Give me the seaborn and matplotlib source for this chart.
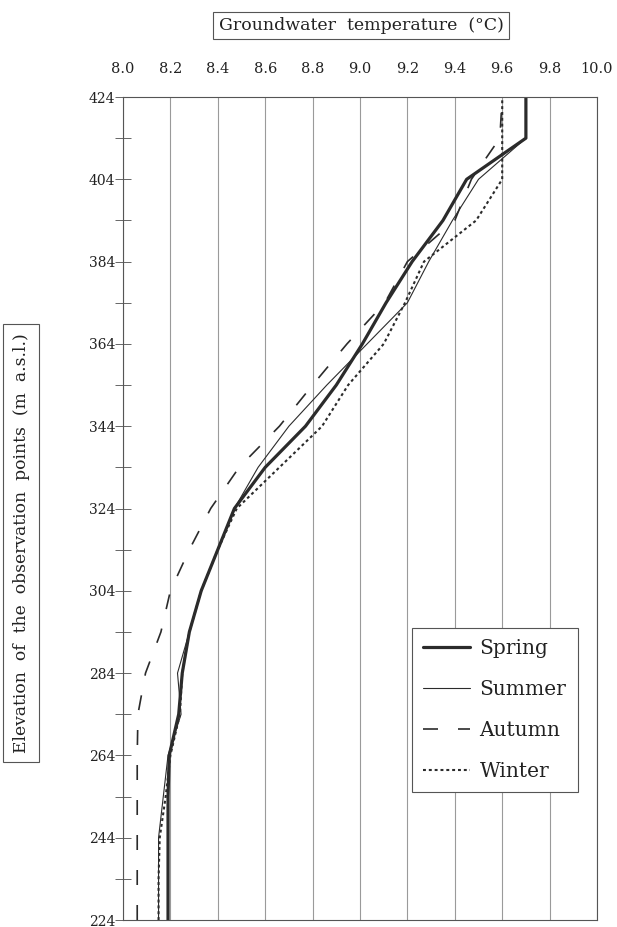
import matplotlib
matplotlib.use("Agg")
import matplotlib.pyplot as plt
import seaborn as sns
import numpy as np
from matplotlib.ticker import MultipleLocator, FixedLocator
from matplotlib.lines import Line2D

# ---- data ----
elevation = [424, 414, 404, 394, 384, 374, 364, 354, 344, 334, 324,
             314, 304, 294, 284, 274, 264, 254, 244, 234, 224]
spring = [9.70, 9.70, 9.45, 9.35, 9.22, 9.11, 9.01, 8.90, 8.77, 8.60, 8.47,
          8.40, 8.33, 8.28, 8.25, 8.235, 8.195, 8.19, 8.19, 8.19, 8.19]
summer = [9.70, 9.70, 9.50, 9.39, 9.29, 9.20, 9.03, 8.86, 8.70, 8.57, 8.47,
          8.40, 8.33, 8.28, 8.23, 8.245, 8.19, 8.17, 8.15, 8.15, 8.15]
autumn = [9.60, 9.59, 9.47, 9.40, 9.20, 9.105, 8.945, 8.80, 8.66, 8.49, 8.37,
          8.28, 8.20, 8.16, 8.095, 8.063, 8.06, 8.06, 8.06, 8.06, 8.06]
winter = [9.60, 9.60, 9.60, 9.49, 9.27, 9.19, 9.10, 8.95, 8.84, 8.66, 8.48,
          8.40, 8.33, 8.28, 8.25, 8.24, 8.20, 8.18, 8.155, 8.15, 8.15]
seasons = ["Spring", "Summer", "Autumn", "Winter"]
x_ticks = [8.0, 8.2, 8.4, 8.6, 8.8, 9.0, 9.2, 9.4, 9.6, 9.8, 10.0]
y_ticks = [224, 244, 264, 284, 304, 324, 344, 364, 384, 404, 424]

sns.set_theme(style="white")
plt.rcParams["font.family"] = ["DejaVu Serif"]

fig = plt.figure(figsize=(6.17, 9.27), dpi=100)
ax = fig.add_axes([123 / 617, 7 / 927, 474 / 617, 823 / 927])

col = "#2b2b2b"
styles = {
    "Spring": dict(linewidth=2.3, linestyle="-"),
    "Summer": dict(linewidth=0.8, linestyle="-"),
    "Autumn": dict(linewidth=1.2, linestyle=(0, (9, 12))),
    "Winter": dict(linewidth=1.5, linestyle=(0, (1.4, 1.4))),
}
series = dict(zip(seasons, [spring, summer, autumn, winter]))

for name in seasons:
    sns.lineplot(x=series[name], y=elevation, orient="y", errorbar=None,
                 ax=ax, color=col, label=name, **styles[name])

ax.set_xlim(8.0, 10.0)
ax.set_ylim(224, 424)
ax.xaxis.tick_top()
ax.set_xticks(x_ticks)
ax.set_xticklabels([f"{v:.1f}" for v in x_ticks])
ax.set_yticks(y_ticks)
ax.yaxis.set_minor_locator(FixedLocator([t + 10 for t in y_ticks[:-1]]))

ax.grid(axis="x", color="#9a9a9a", linewidth=0.8)
ax.grid(axis="y", visible=False)
ax.tick_params(axis="x", which="both", length=0, pad=15, labelsize=10.5,
               labelcolor="#222")
ax.tick_params(axis="y", which="both", direction="inout", length=11,
               width=0.7, color="#666", left=True, pad=0, labelsize=10,
               labelcolor="#222")
for s in ax.spines.values():
    s.set_color("#555")
    s.set_linewidth(0.8)

ax.set_xlabel("Groundwater  temperature  (°C)", fontsize=12.5, color="#222",
              va="center",
              bbox=dict(boxstyle="square,pad=0.3", fc="white", ec="#555", lw=0.8))
ax.xaxis.set_label_position("top")
ax.xaxis.set_label_coords(0.502, 1.0815)
ax.set_ylabel("Elevation  of  the  observation  points  (m  a.s.l.)",
              fontsize=12.3, color="#222", va="center",
              bbox=dict(boxstyle="square,pad=0.55", fc="white", ec="#555", lw=0.8))
ax.yaxis.set_label_coords(-0.215, 0.458)

handles = [Line2D([], [], color=col, **styles[n]) for n in seasons]
leg = ax.legend(handles, seasons, loc="upper left", bbox_to_anchor=(0.61, 0.355),
                borderaxespad=0, fontsize=14.5, frameon=True, fancybox=False,
                framealpha=1, edgecolor="#555", handlelength=2.3,
                handletextpad=0.5, labelspacing=1.1, borderpad=0.55)
leg.get_frame().set_linewidth(0.8)
for t in leg.get_texts():
    t.set_color("#222")

fig.savefig("out.png", dpi=100)
